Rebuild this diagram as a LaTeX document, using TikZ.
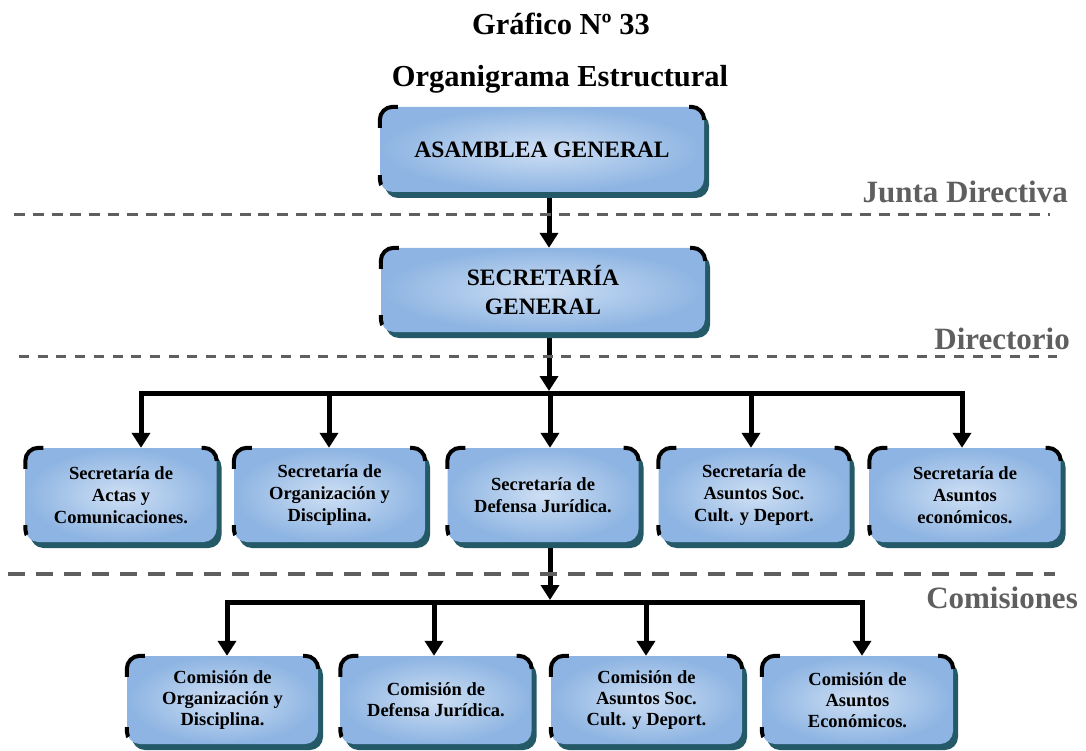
\documentclass[tikz,border=0pt]{standalone}
\usepackage{fontspec}
\setmainfont{Liberation Serif}
\usetikzlibrary{arrows.meta,shadows,backgrounds}

\definecolor{boxedge}{RGB}{141,180,226}
\definecolor{boxmid}{RGB}{206,223,244}
\definecolor{boxshade}{RGB}{36,89,104}
\definecolor{rulegray}{RGB}{95,95,95}

\tikzset{
  orgbox/.style={rectangle, rounded corners=13pt, inner sep=0pt, align=center,
    inner color=boxmid, outer color=boxedge,
    drop shadow={shadow xshift=5pt, shadow yshift=-6pt, fill=boxshade, opacity=1}},
  headbox/.style={orgbox, minimum width=324pt, minimum height=85pt,
    font=\bfseries\fontsize{23.5}{29}\selectfont},
  secbox/.style={orgbox, minimum width=191pt, minimum height=94pt,
    font=\bfseries\fontsize{18.5}{22}\selectfont},
  combox/.style={orgbox, minimum width=191pt, minimum height=88pt,
    font=\bfseries\fontsize{18.5}{21}\selectfont},
  cmark/.style={line width=4pt, rounded corners=13pt},
  arrowline/.style={line width=5pt, -{Triangle[width=18pt,length=15pt]}},
  busline/.style={line width=5pt, line cap=rect},
  levelrule/.style={rulegray, line width=3pt, dash pattern=on 11pt off 7.8pt},
  levelrulewide/.style={rulegray, line width=4pt, dash pattern=on 16.5pt off 11.5pt},
  levellabel/.style={rulegray, inner sep=0pt, font=\bfseries\fontsize{31}{36}\selectfont},
  heading/.style={inner sep=0pt, font=\bfseries\fontsize{30.5}{36}\selectfont},
}

% black corner brackets on a box
\newcommand\boxcorners[1]{%
  \draw[cmark] ([yshift=-21pt]#1.north west) -- (#1.north west) -- ([xshift=18pt]#1.north west);
  \draw[cmark] ([xshift=-15pt]#1.north east) -- (#1.north east) -- ([yshift=-11pt]#1.north east);
  \draw[cmark, dash pattern=on 10pt off 60pt] ([yshift=17pt]#1.south west) -- (#1.south west) -- ([xshift=17pt]#1.south west);
}

\begin{document}
\begin{tikzpicture}[x=1pt, y=-1pt]
\useasboundingbox (0,0) rectangle (1086,751);

% titles
\node[heading, anchor=base] (title) at (561,35) {Gráfico Nº 33};
\node[heading, anchor=base] (subtitle) at (560,87) {Organigrama Estructural};

% level separators
\draw[levelrule] (14,215) -- (1050,215);
\draw[levelrule, dash pattern=on 10pt off 8.7pt] (19,356) -- (1057,356);
\draw[levelrulewide] (8,574) -- (1055,574);

\node[levellabel, anchor=base east] (lvjunta) at (1068,203) {Junta Directiva};
\node[levellabel, anchor=base east] (lvdir) at (1070,349) {Directorio};
\node[levellabel, anchor=base east] (lvcom) at (1078,608) {Comisiones};

% top levels
\node[headbox] (asam) at (542,149.5) {ASAMBLEA GENERAL};
\node[headbox, minimum height=84pt] (sg) at (543,290) {SECRETARÍA\\GENERAL};

% secretariats
\node[secbox] (sa) at (121,495) {Secretaría de\\Actas y\\Comunicaciones.};
\node[secbox] (sb) at (329.5,495) {Secretaría de\\Organización y\\Disciplina.};
\node[secbox] (sc) at (543,495) {Secretaría de\\Defensa Jurídica.};
\node[secbox] (sd) at (754,495) {Secretaría de\\Asuntos Soc.\\Cult. y Deport.};
\node[secbox] (se) at (965,495) {Secretaría de\\Asuntos\\económicos.};

% commissions
\node[combox] (ca) at (222.5,700) {Comisión de\\Organización y\\Disciplina.};
\node[combox] (cb) at (436,700) {Comisión de\\Defensa Jurídica.};
\node[combox] (cc) at (646.5,700) {Comisión de\\Asuntos Soc.\\Cult. y Deport.};
\node[combox] (cd) at (857.5,700) {Comisión de\\Asuntos\\Económicos.};

\foreach \n in {asam,sg,sa,sb,sc,sd,se,ca,cb,cc,cd}{\boxcorners{\n}}

% connectors
\coordinate (hub1) at (549,391);
\coordinate (k1) at (141,393);
\coordinate (k2) at (329,393);
\coordinate (k3) at (550,393);
\coordinate (k4) at (751,393);
\coordinate (k5) at (962,393);
\coordinate (hub2) at (550,600);
\coordinate (m1) at (227,602);
\coordinate (m2) at (434,602);
\coordinate (m3) at (646,602);
\coordinate (m4) at (862,602);

\begin{scope}[on background layer]
  \draw[arrowline] ([xshift=7pt]asam.south) -- ([xshift=6pt]sg.north);
  \draw[arrowline] ([xshift=6pt]sg.south) -- (hub1);
  \draw[busline] (k1) -- (k5);
  \foreach \k/\b in {k1/sa,k2/sb,k3/sc,k4/sd,k5/se}
    \draw[arrowline] (\k) -- (\k |- \b.north);
  \draw[arrowline] ([xshift=7pt]sc.south) -- (hub2);
  \draw[busline] (m1) -- (m4);
  \foreach \m/\b in {m1/ca,m2/cb,m3/cc,m4/cd}
    \draw[arrowline] (\m) -- (\m |- \b.north);
\end{scope}
\end{tikzpicture}
\end{document}
